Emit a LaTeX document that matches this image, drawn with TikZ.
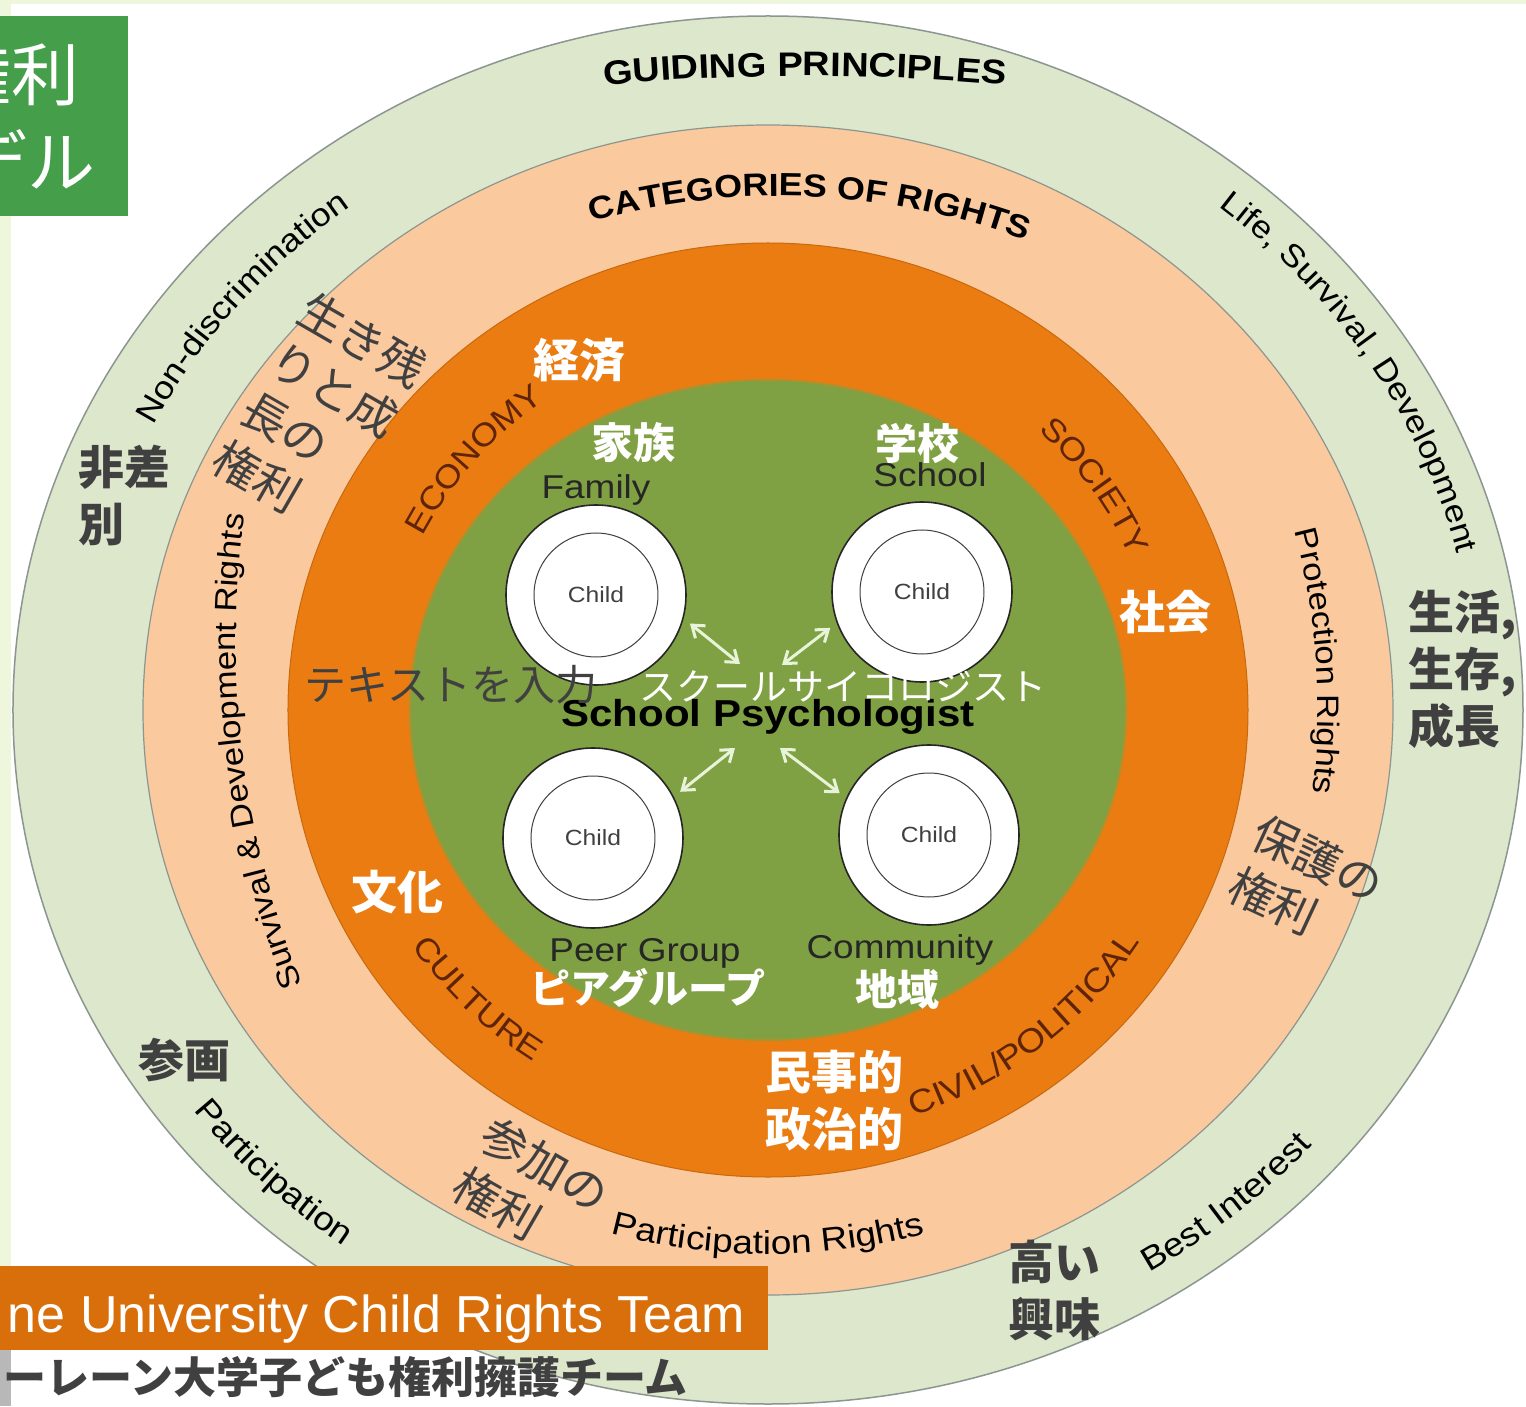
\documentclass[tikz,border=0pt]{standalone}
\usepackage{fontspec}
\setmainfont{Liberation Sans}
\newfontfamily\ringfont{Liberation Sans}[FakeStretch=1.12]
\newfontfamily\jp{Noto Sans CJK JP}
\usetikzlibrary{decorations.text,arrows.meta}

\definecolor{frame}{RGB}{238,247,220}
\definecolor{guide}{RGB}{221,231,204}
\definecolor{peach}{RGB}{251,201,158}
\definecolor{ochre}{RGB}{234,124,17}
\definecolor{olive}{RGB}{128,161,67}
\definecolor{edge}{RGB}{140,150,145}
\definecolor{brownink}{RGB}{95,35,8}
\definecolor{inkgrey}{RGB}{64,64,64}
\definecolor{titlegreen}{RGB}{69,158,74}
\definecolor{bannerorange}{RGB}{217,111,11}
\definecolor{arrowpale}{RGB}{232,244,218}

% text set on an elliptic arc: format, centre, x radius, y radius, from, to, text
\newcommand{\arctext}[7]{%
  \path[decorate,decoration={text along path,text align=center,text={|#1|#7}}]
    (#2) ++(#5:#3 and #4) arc[start angle=#5,end angle=#6,x radius=#3,y radius=#4];}

\begin{document}
\begin{tikzpicture}[x=1pt,y=1pt,
    jpwhite/.style={text=white,font=\jp\bfseries\fontsize{46}{57}\selectfont,align=center},
    jpgrey/.style={text=inkgrey,font=\jp\fontsize{46}{57}\selectfont,align=left,inner sep=0pt},
    jpbold/.style={jpgrey,font=\jp\bfseries\fontsize{46}{57}\selectfont},
    child/.style={circle,draw=black!85,line width=1.6pt,fill=white,minimum size=180pt},
    core/.style={circle,draw=black!75,line width=1pt,minimum size=124pt,
      font=\ringfont\fontsize{22}{22}\selectfont,text=black!75},
    setting/.style={font=\ringfont\fontsize{33}{33}\selectfont,text=black!85},
    twoway/.style={{Straight Barb[length=11pt,width=16pt]}-{Straight Barb[length=11pt,width=16pt]},
      draw=arrowpale,line width=3pt,shorten <=8pt}]
  \useasboundingbox (-768,-696) rectangle (758,710);
  \clip (-768,-696) rectangle (758,710);

  % page frame
  \fill[frame] (-768,-696) rectangle (758,710);
  \fill[white] (-757,-696) rectangle (758,706);
  \fill[black!28] (-768,-696) rectangle (-757,-640);

  % rings, outside in
  \filldraw[fill=guide,draw=edge,line width=1.5pt] (0,0) ellipse[x radius=755,y radius=694];
  \filldraw[fill=peach,draw=edge,line width=1.2pt] (0,0) ellipse[x radius=625,y radius=585];
  \filldraw[fill=ochre,draw=ochre!85!black,line width=1pt] (0,0) ellipse[x radius=480,y radius=467];
  \filldraw[fill=olive,draw=olive!60!ochre,line width=2pt] (0,0) ellipse[x radius=358,y radius=330];

  % guiding principles
  \arctext{\ringfont\bfseries\fontsize{34}{34}\selectfont}{37,-1566}{2200}{2200}{96}{84}{GUIDING PRINCIPLES}
  \arctext{\ringfont\fontsize{32}{32}\selectfont}{0,0}{688}{633}{176}{106}{Non-discrimination}
  \arctext{\ringfont\fontsize{31.5}{31.5}\selectfont}{0,0}{710}{652}{72}{-9}{Life, Survival, Development}
  \arctext{\ringfont\fontsize{33}{33}\selectfont}{0,0}{721}{663}{195}{255}{Participation}
  \arctext{\ringfont\fontsize{33}{33}\selectfont}{0,0}{721}{663}{281}{341}{Best Interest}

  % categories of rights
  \arctext{\ringfont\bfseries\fontsize{32}{32}\selectfont}{12,-186}{700}{700}{111}{64}{CATEGORIES OF RIGHTS}
  \arctext{\ringfont\fontsize{31}{31}\selectfont}{-150,0}{700}{700}{26}{-18}{Protection Rights}
  \arctext{\ringfont\fontsize{31}{31}\selectfont}{386,68}{918}{918}{227}{147}{Survival {\&} Development Rights}
  \arctext{\ringfont\fontsize{33}{33}\selectfont}{0,0}{581}{544}{220}{320}{Participation Rights}

  % settings around the child
  \arctext{\ringfont\color{brownink}\fontsize{32}{32}\selectfont}{0,0}{389}{378}{170}{108}{ECONOMY}
  \arctext{\ringfont\color{brownink}\fontsize{32}{32}\selectfont}{0,0}{395}{384}{65}{5}{SOCIETY}
  \arctext{\ringfont\color{brownink}\fontsize{32}{32}\selectfont}{0,0}{431}{419}{195}{256}{CULTURE}
  \arctext{\ringfont\color{brownink}\fontsize{33}{33}\selectfont}{0,0}{442}{430}{270}{347}{CIVIL/POLITICAL}

  % children in their settings
  \foreach \name/\x/\y in {fam/-172/115, sch/154/118, peer/-175/-128, com/161/-125}
  {
    \node[child] (\name) at (\x,\y) {};
    \node[core] (\name-core) at (\x,\y) {Child};
  }
  \node[setting] (fam-label) at (-172,220) {Family};
  \node[setting] (sch-label) at (162,235) {School};
  \node[setting] (peer-label) at (-123,-243) {Peer Group};
  \node[setting] (com-label) at (132,-240) {Community};

  % the school psychologist in the middle
  \node[font=\ringfont\bfseries\fontsize{37.5}{37.5}\selectfont] (psy) at (0,-7) {School Psychologist};
  \coordinate (famhub) at (-28,46);
  \coordinate (schhub) at (14,45);
  \coordinate (peerhub) at (-33,-38);
  \coordinate (comhub) at (12,-38);
  \draw[twoway] (fam.-15) -- (famhub);
  \draw[twoway] (sch.200) -- (schhub);
  \draw[twoway] (peer.27) -- (peerhub);
  \draw[twoway] (com.156) -- (comhub);

  % japanese labels
  \node[jpwhite] (keizai) at (-188,350) {経済};
  \node[jpwhite,font=\jp\bfseries\fontsize{42}{42}\selectfont] (kazoku) at (-134,267) {家族};
  \node[jpwhite,font=\jp\bfseries\fontsize{42}{42}\selectfont] (gakko) at (149,267) {学校};
  \node[jpwhite] (shakai) at (397,98) {社会};
  \node[jpwhite] (bunka) at (-370,-182) {文化};
  \node[jpwhite,font=\jp\bfseries\fontsize{40}{40}\selectfont] (piagurupu) at (-120,-278) {ピアグループ};
  \node[jpwhite,font=\jp\bfseries\fontsize{42}{42}\selectfont] (chiiki) at (129,-280) {地域};
  \node[jpwhite] (minji) at (67,-391) {民事的\\政治的};
  \node[text=white,font=\jp\fontsize{37}{37}\selectfont] (sukuru) at (75,24) {スクールサイコロジスト};
  \node[text=inkgrey,font=\jp\fontsize{42}{42}\selectfont] (tekisuto) at (-317,25) {テキストを入力};

  \node[jpgrey,rotate=-30] (ikinokori) at (-448,296) {生き残\\りと成\\長の\\権利};
  \node[jpgrey,rotate=-25] (hogo) at (538,-175) {保護の\\権利};
  \node[jpgrey,rotate=-30] (sanka) at (-237,-480) {参加の\\権利};

  \node[jpbold,anchor=north west] (hisabetsu) at (-690,265) {非差\\別};
  \node[jpbold] (sankaku) at (-583,-350) {参画};
  \node[jpbold,anchor=north west] (seikatsu) at (640,120) {生活,\\生存,\\成長};
  \node[jpbold,anchor=north west] (kyomi) at (240,-530) {高い\\興味};

  % title box and team banner
  \fill[titlegreen] (-768,694) rectangle (-640,494);
  \node[text=white,font=\jp\fontsize{68}{68}\selectfont,anchor=east,inner sep=0pt] (title1) at (-688,635) {権利};
  \node[text=white,font=\jp\fontsize{68}{68}\selectfont,anchor=east,inner sep=0pt] (title2) at (-672,550) {デル};
  \fill[bannerorange] (-768,-556) rectangle (0,-640);
  \node[text=white,font=\fontsize{52}{52}\selectfont,anchor=base east,inner sep=0pt] (team) at (-23,-622) {ne University Child Rights Team};
  \node[text=inkgrey,font=\jp\bfseries\fontsize{43}{43}\selectfont,anchor=east,inner sep=0pt] (teamjp) at (-80,-667) {ーレーン大学子ども権利擁護チーム};
\end{tikzpicture}
\end{document}
